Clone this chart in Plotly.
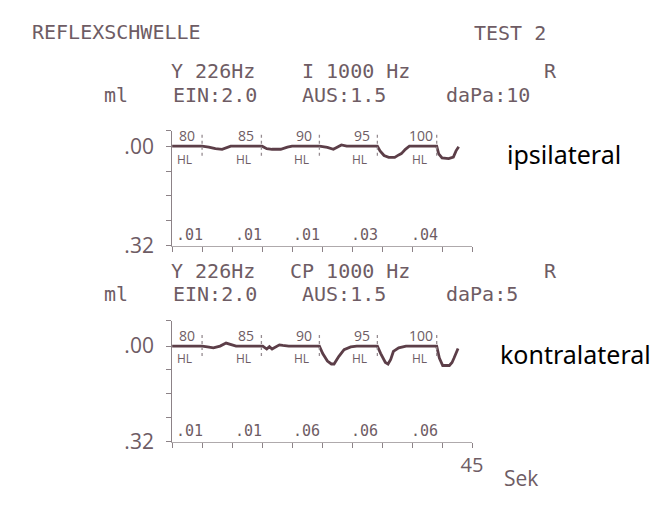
import plotly.graph_objects as go

# ---------------- data ----------------
stim_levels = ["80", "85", "90", "95", "100"]
stim_onset = [4.5, 13.4, 22.1, 30.8, 39.7]           # seconds
ipsi_amp = [".01", ".01", ".01", ".03", ".04"]
contra_amp = [".01", ".01", ".06", ".06", ".06"]

ipsi_t = [0, 4.5, 5.5, 6.5, 7.5, 8.3, 8.8, 13.5, 14.2, 15.0, 16.3, 17.3, 18.0,
          22.1, 23.3, 24.2, 24.9, 25.4, 26.2, 30.8, 31.2, 31.8, 32.5, 33.4, 34.0,
          34.4, 35.0, 35.6, 39.7, 40.0, 40.5, 41.5, 42.2, 42.6, 43.0]
ipsi_v = [0, 0, 0.003, 0.008, 0.010, 0.004, 0, 0, 0.008, 0.010, 0.010, 0.003, 0,
          0, 0.004, 0.010, 0.002, -0.004, 0, 0, 0.015, 0.030, 0.036, 0.036, 0.028,
          0.024, 0.010, 0, 0, 0.025, 0.038, 0.040, 0.035, 0.015, 0.002]

contra_t = [0, 4.5, 5.3, 6.2, 7.2, 8.1, 9.6, 13.6, 14.2, 14.6, 15.0, 15.5, 16.1,
            16.6, 17.5, 22.1, 22.6, 23.3, 23.9, 24.3, 25.0, 25.8, 26.8, 27.7,
            30.8, 31.3, 32.0, 32.4, 32.8, 33.2, 34.0, 35.1, 39.7, 40.1, 40.6,
            41.6, 42.0, 42.3, 42.9]
contra_v = [0, 0, 0.003, 0.006, 0.0, -0.010, 0, 0, 0.010, 0.002, 0.010, 0.004,
            -0.004, -0.002, 0, 0, 0.025, 0.050, 0.060, 0.060, 0.035, 0.012, 0.003,
            0, 0, 0.025, 0.055, 0.060, 0.045, 0.018, 0.006, 0, 0, 0.040, 0.065,
            0.065, 0.055, 0.040, 0.008]

x_ticks = [4.5 * i for i in range(11)]
header_top = [("Y 226Hz", 172, 73), ("I 1000 Hz", 305, 73), ("R", 551, 73),
              ("ml", 104, 97), ("EIN:2.0", 174, 97), ("AUS:1.5", 305, 97), ("daPa:10", 452, 97)]
header_bot = [("Y 226Hz", 172, 278), ("CP 1000 Hz", 293, 278), ("R", 551, 278),
              ("ml", 104, 302), ("EIN:2.0", 174, 302), ("AUS:1.5", 305, 302), ("daPa:5", 452, 302)]

# ---------------- layout helpers ----------------
W, H = 662, 516
TXT = "rgb(110,92,100)"
CURVE = "rgb(92,62,72)"
AX = "rgb(140,130,135)"
MONO = "DejaVu Sans Mono"


def px(x):
    return x / W


def py(y):
    return 1 - y / H


fig = go.Figure()
fig.add_trace(go.Scatter(x=ipsi_t, y=ipsi_v, mode="lines", xaxis="x", yaxis="y",
                         line=dict(color=CURVE, width=2.8), hoverinfo="skip", showlegend=False))
fig.add_trace(go.Scatter(x=contra_t, y=contra_v, mode="lines", xaxis="x2", yaxis="y2",
                         line=dict(color=CURVE, width=2.8), hoverinfo="skip", showlegend=False))

annotations = []
shapes = []


def add_text(text, x, y, size, family=MONO, color=TXT, xanchor="left"):
    annotations.append(dict(text=text, x=px(x), y=py(y), xref="paper", yref="paper",
                            xanchor=xanchor, yanchor="middle", showarrow=False,
                            font=dict(family=family, size=size, color=color)))


add_text("REFLEXSCHWELLE", 30, 33, 20)
add_text("TEST 2", 480, 34, 20)
for t, x, y in header_top + header_bot:
    add_text(t, x, y, 20)

add_text("ipsilateral", 514, 158, 25, family="Noto Sans", color="black")
add_text("kontralateral", 506, 363, 25, family="Noto Sans", color="black")
add_text("Sek", 510, 490, 21, family="Open Sans", color=TXT)

for xa, ya, amps in (("x", "y", ipsi_amp), ("x2", "y2", contra_amp)):
    for lvl, on, amp in zip(stim_levels, stim_onset, amps):
        shapes.append(dict(type="line", xref=xa, yref=ya, x0=on, x1=on, y0=-0.037, y1=0.037,
                           line=dict(color="rgb(150,140,145)", width=1.3, dash="dot")))
        annotations.append(dict(text=lvl, x=on - 2.3, y=-0.034, xref=xa, yref=ya,
                                showarrow=False, font=dict(family="Open Sans", size=14, color=TXT)))
        annotations.append(dict(text="HL", x=on - 2.65, y=0.043, xref=xa, yref=ya,
                                showarrow=False, font=dict(family="Open Sans", size=12, color=TXT)))
        annotations.append(dict(text=amp, x=on - 1.9, y=0.285, xref=xa, yref=ya,
                                showarrow=False, font=dict(family=MONO, size=15, color=TXT)))


def yaxis(domain, top, anchor):
    return dict(domain=domain, range=[0.32, top], showgrid=False, zeroline=False,
                showline=True, linecolor=AX, linewidth=1, ticks="outside", ticklen=5,
                tickcolor=AX, tickvals=[top, 0, 0.08, 0.16, 0.24, 0.32],
                ticktext=["", ".00", "", "", "", ".32"], ticklabelstandoff=8,
                tickfont=dict(family="Open Sans", size=21, color=TXT), anchor=anchor)


def xaxis(domain, anchor, labels):
    return dict(domain=domain, range=[0, 45], showgrid=False, zeroline=False,
                showline=True, linecolor="rgb(175,170,172)", linewidth=1, ticks="outside",
                ticklen=5, tickcolor=AX, tickvals=x_ticks,
                ticktext=[""] * 10 + (["45"] if labels else [""]),
                tickfont=dict(family="Open Sans", size=20, color=TXT), anchor=anchor)


xd = [px(175), px(480)]

fig.update_layout(
    width=W, height=H, margin=dict(l=0, r=0, t=0, b=0),
    paper_bgcolor="white", plot_bgcolor="white", showlegend=False,
    xaxis=xaxis(xd, "y", False), yaxis=yaxis([py(252), py(134)], -0.05, "x"),
    xaxis2=xaxis(xd, "y2", True), yaxis2=yaxis([py(453), py(329)], -0.085, "x2"),
    annotations=annotations, shapes=shapes,
)
fig.write_html("out.html")
